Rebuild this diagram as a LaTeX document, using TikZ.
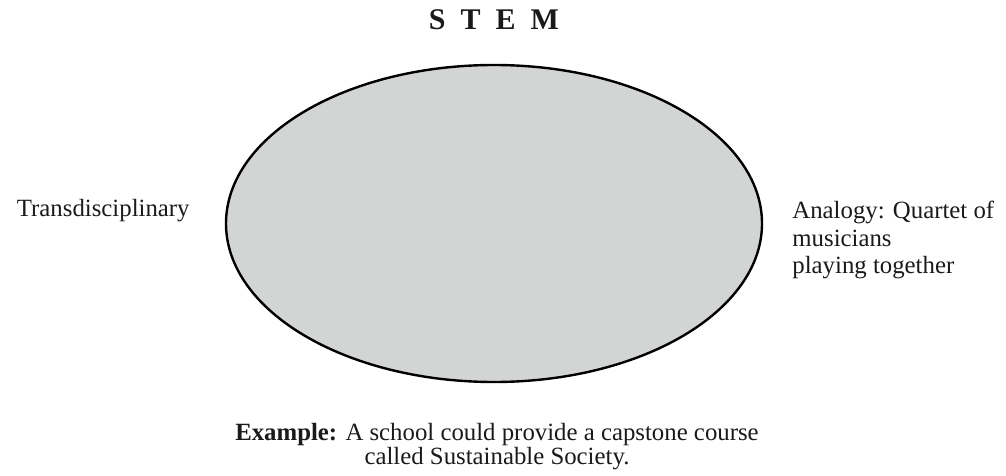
\documentclass[tikz,border=0pt]{standalone}
\usepackage{fontspec}
\setmainfont{Liberation Serif}
\definecolor{stemGrey}{HTML}{D3D5D4}
\definecolor{stemInk}{HTML}{1A1A1A}
\usetikzlibrary{positioning, shapes.geometric}

\begin{document}
\begin{tikzpicture}[
    x=0.5pt, y=-0.5pt,
    blob/.style={
      ellipse,
      draw=black,
      fill=stemGrey,
      line width=1.2pt,
      minimum width=268pt,
      minimum height=158.5pt,
      inner sep=0pt,
      outer sep=0pt,
    },
    lbl/.style={
      inner sep=0pt,
      text=stemInk,
      font=\fontsize{12.4}{13.75}\selectfont,
    },
    ttl/.style={lbl, font=\fontsize{15}{18}\selectfont\bfseries},
    note/.style={lbl, align=center, font=\fontsize{12.4}{11.75}\selectfont},
  ]
    \useasboundingbox (0,0) rectangle (1006,476);

    % ellipse
    \node[blob] (stem) at (494,223.5) {};

    % title
    \node[ttl, above=17.5pt of stem] (title) {S\hspace{7.5pt}T\hspace{7.5pt}E\hspace{7.5pt}M};

    % left side
    \node[lbl, left=18pt of stem, yshift=6.65pt] (trans) {Transdisciplinary};

    % right side
    \node[lbl, align=left, right=15pt of stem, yshift=-8.25pt] (analogy) {Analogy: Quartet of\\musicians\\playing together};

    % example
    \node[note, below=20.5pt of stem, xshift=1.5pt] (example) {\textbf{Example:} A school could provide a capstone course\\called Sustainable Society.};
  \end{tikzpicture}
\end{document}
